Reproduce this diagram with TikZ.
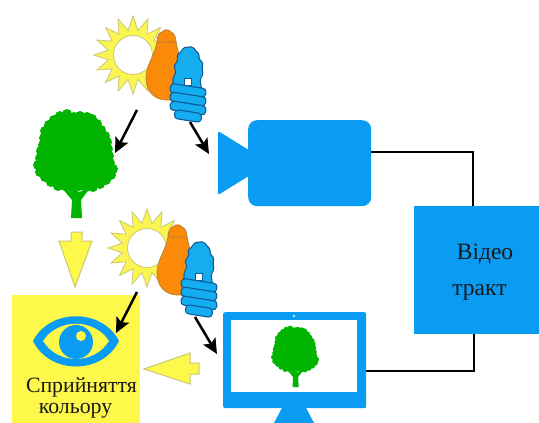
\documentclass[tikz,border=0pt]{standalone}
\usepackage{fontspec}
\setmainfont{Liberation Serif}
\usetikzlibrary{arrows.meta}
\definecolor{mainblue}{HTML}{0A9BF2}
\definecolor{lampblue}{HTML}{14AEF0}
\definecolor{lampedge}{HTML}{0F5C9C}
\definecolor{sunyellow}{HTML}{FAF550}
\definecolor{sunedge}{HTML}{C9C878}
\definecolor{panel}{HTML}{FDF84A}
\definecolor{treegreen}{HTML}{00B400}
\definecolor{bulb}{HTML}{FB8A08}
\definecolor{bulbedge}{HTML}{B8803A}
\tikzset{
  wire/.style={line width=2.4pt,black,line join=miter},
  ray/.style={line width=2.5pt,black,-{Stealth[length=15pt,width=14pt,inset=3pt]}},
  yarrow/.style={fill=panel,draw=sunedge,line width=1pt,line join=miter},
  solid blue/.style={fill=mainblue,draw=none},
  coil/.style={fill=lampblue,draw=lampedge,line width=1.1pt,rounded corners=3.5pt},
  label text/.style={font=\fontsize{21.8}{25}\selectfont,inner sep=0pt,text=black!90},
  block text/.style={font=\fontsize{23.5}{26}\selectfont,inner sep=0pt,text=black!90},
  pics/sunicon/.style={code={
    \path[fill=sunyellow,draw=sunedge,line width=0.8pt]
      plot[samples at={0,...,31}] ({(mod(\x,2)==0?39:25)*cos(\x*11.25+90)},{(mod(\x,2)==0?39:25)*sin(\x*11.25+90)}) -- cycle;
    \path[fill=white,draw=sunedge,line width=0.8pt] (0,0) circle (19.5);
  }},
  pics/lamps/.style={code={
    \path[fill=bulb,draw=bulbedge,line width=0.8pt]
      (157,42) .. controls (155,55) and (146,65) .. (146,78)
      .. controls (146,92) and (155,100) .. (167,100) -- (180,100) -- (180,60)
      .. controls (179,53) and (177,48) .. (176,42) -- cycle;
    \path[fill=bulb,draw=bulbedge,line width=0.8pt]
      (157,42) .. controls (157,35) and (160,32) .. (162,32)
      .. controls (164,29) and (169,29) .. (171,32)
      .. controls (174,33) and (176,37) .. (176,42) -- cycle;
    \path[fill=lampblue,draw=lampedge,line width=1.1pt,rounded corners=1.5pt]
      (173,88) -- (173,78) -- (176,72) -- (174,66) -- (178,60) -- (177,55) -- (181,52)
      -- (183,48) -- (188,47) -- (193,47) -- (196,51) -- (199,54) -- (199,59) -- (203,63)
      -- (202,68) -- (203,74) -- (200,80) -- (202,92) -- cycle;
    \path[fill=white,draw=lampedge,line width=1pt] (184,78) rectangle (191,85);
    \foreach \cy/\cw in {90.5/36,99/36,108/36,116/27}
      \path[coil,rotate around={-9:(188,\cy)}] (188-\cw/2,\cy-4.5) rectangle (188+\cw/2,\cy+4.5);
  }}
}
\newcommand{\treeshape}{%
  \path[fill=treegreen] (67,114) -- (54,120) -- (45,131) -- (41,151) -- (38,165) -- (45,177) -- (58,186)
    -- (79,186) -- (100,184) -- (111,175) -- (113,169) -- (108,149) -- (101,130) -- (87,117) -- cycle;
  \foreach \px/\py in {67/114,60/116,54/120,49/125,45/131,44/138,43/145,41/151,40/158,38/165,40/172,45/177,51/182,58/186,65/186,72/187,79/186,86/187,93/187,100/184,106/180,111/175,113/169,110/163,109/156,108/149,107/142,105/136,101/130,97/124,92/119,87/117,80/116,74/117}
    \fill[treegreen] (\px,\py) circle (5);
  \path[fill=treegreen]
    (71,218) -- (72,200) -- (62,188) -- (72,192) -- (75,188) -- (79,192) -- (90,188) -- (81,200) -- (82,218) -- cycle;
}
\begin{document}
\begin{tikzpicture}[x=1pt,y=-1pt]
\useasboundingbox (0,0) rectangle (539,423);
\fill[white] (0,0) rectangle (539,423);

% perception panel
\node[fill=panel,minimum width=128pt,minimum height=128pt,inner sep=0pt,anchor=north west] (panel) at (12,295) {};

% eye
\path[fill=mainblue] (33,341) .. controls (50,308) and (102,308) .. (119,341)
   .. controls (102,375) and (50,375) .. (33,341) -- cycle;
\path[fill=panel] (43,341) .. controls (58,318) and (94,318) .. (109,341)
   .. controls (94,365) and (58,365) .. (43,341) -- cycle;
\node[circle,fill=mainblue,minimum size=34pt,inner sep=0pt] (iris) at (76,342) {};
\fill[panel] (81,336) circle (5);

% text in panel
\node[label text,anchor=base] (percept) at (81.5,392) {Сприйняття};
\node[label text,anchor=base] (colourword) at (75.5,413) {кольору};

% first tree, sun and lamps
\treeshape
\pic at (133,55) {sunicon};
\pic at (0,0) {lamps};
\coordinate (lampA) at (137,110);
\coordinate (treeA) at (115,153);
\coordinate (lampB) at (190,122);
\coordinate (camIn) at (209,154);

% camera
\node[solid blue,rounded corners=9pt,minimum width=123pt,minimum height=86pt,inner sep=0pt,anchor=north west] (camera) at (248,120) {};
\path[fill=mainblue,rounded corners=2pt] (218,131) -- (252,152) -- (252,174) -- (218,195) -- cycle;

% video path block
\node[solid blue,minimum width=125pt,minimum height=128pt,inner sep=0pt,anchor=north west] (tract) at (414,206) {};
\node[block text,anchor=base] (vword) at (485,259) {Відео};
\node[block text,anchor=base] (tword) at (479.5,295) {тракт};

% second set
\pic at (147,248) {sunicon};
\pic at (11,195) {lamps};
\coordinate (lampC) at (137,292);
\coordinate (eyeIn) at (116,333);
\coordinate (lampD) at (195,317);
\coordinate (monIn) at (217,354);

% monitor
\path[fill=mainblue] (283,406) -- (305,406) -- (314,423) -- (274,423) -- cycle;
\node[solid blue,rounded corners=2pt,minimum width=143pt,minimum height=96pt,inner sep=0pt,anchor=north west] (monitor) at (223,312) {};
\node[fill=white,minimum width=126pt,minimum height=72pt,inner sep=0pt,anchor=north west] (screen) at (231,320) {};
\fill[white!70!mainblue] (294,316) circle (1.5);
\begin{scope}[x=0.565pt,y=-0.565pt,shift={(252.4pt,-264pt)}]
  \treeshape
\end{scope}

% connectors
\coordinate (camOut) at (camera.east |- 0,152);
\coordinate (tractTop) at (473,0 |- tract.north);
\coordinate (monOut) at (monitor.east |- 0,371);
\coordinate (tractBot) at (474,0 |- tract.south);
\draw[wire] (camOut) -- (473,152) -- (tractTop);
\draw[wire] (monOut) -- (474,371) -- (tractBot);
\draw[ray] (lampA) -- (treeA);
\draw[ray] (lampB) -- (camIn);
\draw[ray] (lampC) -- (eyeIn);
\draw[ray] (lampD) -- (monIn);

% yellow arrows
\path[yarrow] (71,232) -- (82,232) -- (82,241) -- (92,241) -- (75,287) -- (59,241) -- (71,241) -- cycle;
\path[yarrow] (144,369) -- (190,353) -- (190,363) -- (199,363) -- (199,374) -- (190,374) -- (190,384) -- cycle;
\end{tikzpicture}
\end{document}
